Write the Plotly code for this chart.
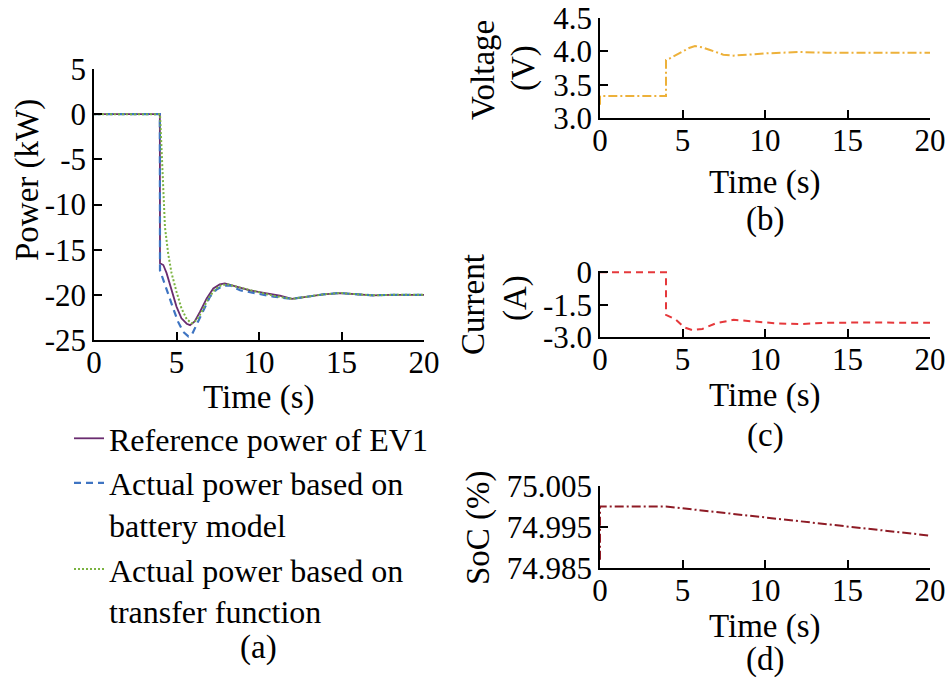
import plotly.graph_objects as go

W, H = 948, 686
FONT = "Liberation Serif"
TICK_SIZE = 31
LABEL_SIZE = 33
LEGEND_SIZE = 32

# ---------------- data ----------------
# (a) Power (kW)
t_ref = [0, 3.99, 4.0, 4.2, 4.4, 4.7, 5.0, 5.3, 5.62, 5.82, 6.1, 6.42, 6.83, 7.23, 7.62, 7.93,
         8.44, 9.45, 10.47, 11.27, 12.0, 12.9, 13.9, 14.9, 15.9, 16.9, 18, 20]
p_ref = [0, 0, -16.5, -16.7, -17.6, -19.5, -21.3, -22.6, -23.2, -23.35, -22.95, -21.9, -20.4, -19.3,
         -18.85, -18.73, -19.0, -19.5, -19.85, -20.1, -20.45, -20.2, -19.95, -19.8, -19.9, -20.06,
         -20.0, -20.0]

t_bat = [0, 3.99, 4.0, 4.2, 4.5, 4.8, 5.1, 5.41, 5.72, 5.92, 6.22, 6.63, 7.03, 7.43, 7.84, 8.25,
         8.85, 9.86, 10.87, 12.0, 12.9, 13.9, 14.9, 15.9, 16.9, 18, 20]
p_bat = [0, 0, -17.3, -18.4, -19.8, -21.5, -23.0, -24.1, -24.6, -24.45, -23.3, -21.7, -20.2, -19.4,
         -19.0, -18.95, -19.5, -19.85, -20.2, -20.45, -20.2, -19.95, -19.8, -19.9, -20.06, -20.0, -20.0]

t_tf = [0, 4.0, 4.05, 4.1, 4.17, 4.3, 4.5, 4.7, 5.0, 5.3, 5.62, 5.92, 6.22, 6.52, 6.93, 7.33,
        7.74, 8.15, 8.85, 9.86, 10.87, 12.0, 12.9, 13.9, 14.9, 15.9, 16.9, 18, 20]
p_tf = [0, 0, -2.0, -4.5, -8.2, -12.5, -15.5, -17.6, -19.65, -21.5, -22.7, -23.15, -22.8, -21.9,
        -20.4, -19.4, -18.9, -18.85, -19.2, -19.65, -20.1, -20.45, -20.2, -19.95, -19.8, -19.9,
        -20.06, -20.0, -20.0]

# (b) Voltage (V)
t_volt = [0, 0, 4.0, 4.0, 4.2, 4.6, 5.0, 5.4, 5.76, 6.2, 6.67, 7.1, 7.47, 8.08, 8.9, 10.1,
          12.1, 13.7, 15.8, 20]
v_volt = [3.2, 3.33, 3.33, 3.87, 3.89, 3.94, 4.0, 4.05, 4.08, 4.06, 4.02, 3.98, 3.95, 3.935, 3.95, 3.97,
          3.99, 3.98, 3.98, 3.98]

# (c) Current (A)
t_cur = [0, 4.0, 4.0, 4.6, 5.1, 5.6, 6.2, 7.0, 8.1, 9.3, 10.7, 12.1, 13.7, 16, 20]
i_cur = [0, 0, -1.97, -2.2, -2.55, -2.68, -2.63, -2.37, -2.2, -2.28, -2.37, -2.4, -2.34, -2.33, -2.34]

# (d) SoC (%)
t_soc = [0, 0, 4.0, 10, 15, 20]
soc = [74.987, 75.0, 75.0, 74.9973, 74.9951, 74.9929]

legend_names = ["Reference power of EV1",
                "Actual power based on<br>battery model",
                "Actual power based on<br>transfer function"]

x_ticks = [0, 5, 10, 15, 20]
p_ticks = [5, 0, -5, -10, -15, -20, -25]
p_ticktext = ["5", "0", "-5", "-10", "-15", "-20", "-25"]
v_ticks = [3.0, 3.5, 4.0, 4.5]
v_ticktext = ["3.0", "3.5", "4.0", "4.5"]
i_ticks = [0, -1.5, -3.0]
i_ticktext = ["0", "-1.5", "-3.0"]
soc_ticks = [74.985, 74.995, 75.005]
soc_ticktext = ["74.985", "74.995", "75.005"]

# ---------------- figure ----------------
def px_x(x):
    return x / W

def px_y(y):
    return 1 - y / H

fig = go.Figure()

fig.add_trace(go.Scatter(x=t_ref, y=p_ref, mode="lines", name=legend_names[0],
                         line=dict(color="#6A2C70", width=1.8), xaxis="x", yaxis="y"))
fig.add_trace(go.Scatter(x=t_bat, y=p_bat, mode="lines", name=legend_names[1],
                         line=dict(color="#3E74C2", width=2.2, dash="7px,5px"), xaxis="x", yaxis="y"))
fig.add_trace(go.Scatter(x=t_tf, y=p_tf, mode="lines", name=legend_names[2],
                         line=dict(color="#7BB341", width=2, dash="2px,2px"), xaxis="x", yaxis="y"))

fig.add_trace(go.Scatter(x=t_volt, y=v_volt, mode="lines", showlegend=False,
                         line=dict(color="#EDB13A", width=2, dash="9px,3px,2px,3px"),
                         xaxis="x2", yaxis="y2"))
fig.add_trace(go.Scatter(x=t_cur, y=i_cur, mode="lines", showlegend=False,
                         line=dict(color="#E5383B", width=2, dash="7px,5px"),
                         xaxis="x3", yaxis="y3"))
fig.add_trace(go.Scatter(x=t_soc, y=soc, mode="lines", showlegend=False,
                         line=dict(color="#8E1B25", width=2, dash="9px,3px,2px,3px"),
                         xaxis="x4", yaxis="y4"))

axis_common = dict(showline=True, linecolor="black", linewidth=1.6, ticks="inside",
                   ticklen=8, tickwidth=1.6, tickcolor="black", showgrid=False,
                   zeroline=False, mirror=False, automargin=False,
                   tickfont=dict(family=FONT, size=TICK_SIZE, color="black"))
xaxis_extra = dict(ticklabelstandoff=-6)

right_dom = [px_x(600), px_x(930)]

fig.update_layout(
    width=W, height=H,
    margin=dict(l=0, r=0, t=0, b=0, pad=0),
    paper_bgcolor="white", plot_bgcolor="white",
    font=dict(family=FONT, size=LABEL_SIZE, color="black"),
    xaxis=dict(domain=[px_x(94), px_x(424)], range=[0, 20], tickvals=x_ticks,
               anchor="y", **axis_common, **xaxis_extra),
    yaxis=dict(domain=[px_y(340), px_y(69)], range=[-25, 5], tickvals=p_ticks,
               ticktext=p_ticktext, anchor="x", **axis_common),
    xaxis2=dict(domain=right_dom, range=[0, 20], tickvals=x_ticks, anchor="y2",
                **axis_common, **xaxis_extra),
    yaxis2=dict(domain=[px_y(118), px_y(18)], range=[3.0, 4.5], tickvals=v_ticks,
                ticktext=v_ticktext, anchor="x2", **axis_common),
    xaxis3=dict(domain=right_dom, range=[0, 20], tickvals=x_ticks, anchor="y3",
                **axis_common, **xaxis_extra),
    yaxis3=dict(domain=[px_y(337), px_y(271)], range=[-3.0, 0.06], tickvals=i_ticks,
                ticktext=i_ticktext, anchor="x3", **axis_common),
    xaxis4=dict(domain=right_dom, range=[0, 20], tickvals=x_ticks, anchor="y4",
                **axis_common, **xaxis_extra),
    yaxis4=dict(domain=[px_y(568), px_y(486)], range=[74.985, 75.005], tickvals=soc_ticks,
                ticktext=soc_ticktext, anchor="x4", **axis_common),
    showlegend=True,
    legend=dict(x=px_x(69), y=px_y(411), xanchor="left", yanchor="top",
                font=dict(family=FONT, size=LEGEND_SIZE, color="black"),
                bgcolor="rgba(0,0,0,0)", borderwidth=0, itemwidth=30,
                valign="top", tracegroupgap=0),
)

def label(text, x, y, angle=0):
    fig.add_annotation(text=text, x=px_x(x), y=px_y(y), xref="paper", yref="paper",
                       showarrow=False, textangle=angle, xanchor="center", yanchor="middle",
                       font=dict(family=FONT, size=LABEL_SIZE, color="black"))

label("Time (s)", 259, 397)
label("(a)", 258, 647)
label("Power (kW)", 28, 180, -90)

label("Time (s)", 765, 182)
label("(b)", 765, 219)
label("Voltage", 483, 70, -90)
label("(V)", 523, 68, -90)

label("Time (s)", 765, 395)
label("(c)", 765, 435)
label("Current", 473, 305, -90)
label("(A)", 515, 298, -90)

label("Time (s)", 765, 626)
label("(d)", 765, 659)
label("SoC (%)", 478, 527, -90)

fig.write_html("out.html", config={"displayModeBar": False},
               post_script="document.body.style.margin='0px';document.body.style.overflow='hidden';")
